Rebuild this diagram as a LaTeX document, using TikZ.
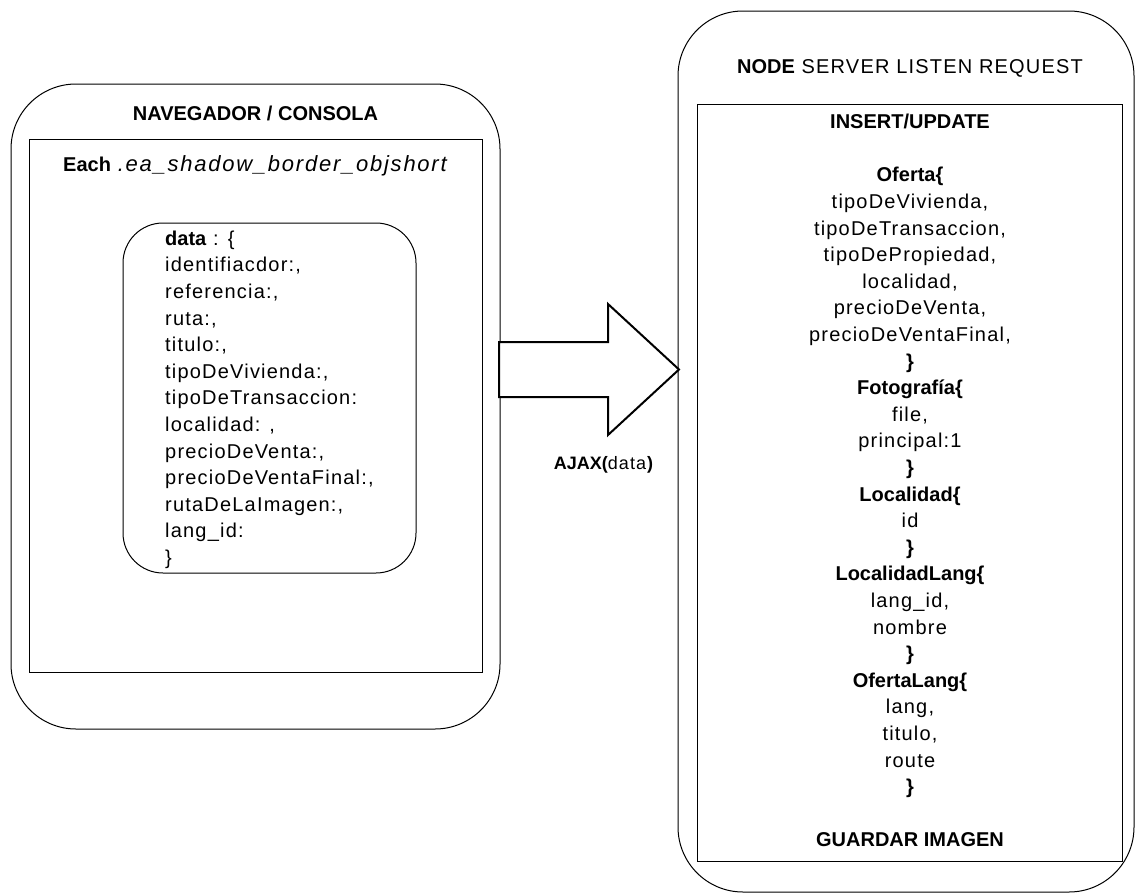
\documentclass[tikz,border=0pt]{standalone}
\usepackage{fontspec}
\setmainfont{Liberation Sans}[UprightFeatures={LetterSpace=6}, ItalicFeatures={LetterSpace=8}]
\tikzset{
  box/.style={draw=black, line width=1pt},
  outerbox/.style={box, rounded corners=65pt},
  innerround/.style={box, rounded corners=40pt},
  blockarrow/.style={draw=black, line width=2pt, line join=miter, fill=white},
  txt/.style={inner sep=0pt, font={\fontsize{20}{26.6}\selectfont}},
}
\newcommand{\firststrut}{\rule{0pt}{20pt}}
\begin{document}
\begin{tikzpicture}[x=1pt,y=-1pt]
\useasboundingbox (0,0) rectangle (1135,894);
% left side
\draw[outerbox] (11,84) rectangle (500,729);
\node[box, minimum width=453pt, minimum height=533pt, inner sep=0pt] (lrect) at (255.5,405.5) {};
\draw[innerround] (123,223) rectangle (416,573);
\node[txt, anchor=base] (ltitle) at (255.5,120) {\bfseries NAVEGADOR / CONSOLA};
\node[txt, anchor=base] (each) at (255,171.5) {\textbf{Each} {\fontsize{22}{26.6}\selectfont\itshape .ea\_shadow\_border\_objshort}};
\node[txt, anchor=north west, align=left] (data) at (165,225) {\firststrut\textbf{data} : \{\\
identifiacdor:,\\
referencia:,\\
ruta:,\\
titulo:,\\
tipoDeVivienda:,\\
tipoDeTransaccion:\\
localidad: ,\\
precioDeVenta:,\\
precioDeVentaFinal:,\\
rutaDeLaImagen:,\\
lang\_id:\\
\}};
% right side
\draw[outerbox] (678,11) rectangle (1134,892);
\node[box, minimum width=425pt, minimum height=757pt, inner sep=0pt] (rrect) at (909.5,482.5) {};
\node[txt, anchor=base] (rtitle) at (910,73.3) {\textbf{NODE} SERVER LISTEN REQUEST};
\node[txt, anchor=north, align=center] (server) at (910,108.5) {\firststrut\textbf{INSERT/UPDATE}\\
\mbox{}\\
\textbf{Oferta\{}\\
tipoDeVivienda,\\
tipoDeTransaccion,\\
tipoDePropiedad,\\
localidad,\\
precioDeVenta,\\
precioDeVentaFinal,\\
\textbf{\}}\\
\textbf{Fotografía\{}\\
file,\\
principal:1\\
\textbf{\}}\\
\textbf{Localidad\{}\\
id\\
\textbf{\}}\\
\textbf{LocalidadLang\{}\\
lang\_id,\\
nombre\\
\textbf{\}}\\
\textbf{OfertaLang\{}\\
lang,\\
titulo,\\
route\\
\textbf{\}}\\
\mbox{}\\
\textbf{GUARDAR IMAGEN}};
% block arrow
\coordinate (atail) at (499,369.5);
\coordinate (atip) at (679,369.5);
\draw[blockarrow] (atail) ++(0,-27.5) -- ++(109,0) -- ++(0,-38) -- (atip) -- ++(-71,65.5) -- ++(0,-38) -- ++(-109,0) -- cycle;
\node[txt, anchor=base, font={\fontsize{18}{22}\selectfont}] (ajax) at (603.5,469.5) {\textbf{AJAX(}data\textbf{)}};
\end{tikzpicture}
\end{document}
